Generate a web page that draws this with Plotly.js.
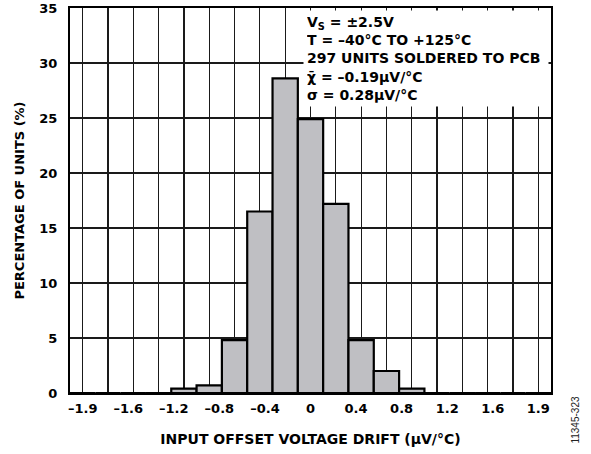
<!DOCTYPE html>
<html>
<head>
<meta charset="utf-8">
<script src="https://cdn.plot.ly/plotly-3.0.1.min.js"></script>
<style>html,body{margin:0;padding:0;background:#fff;}#chart{width:591px;height:454px;}</style>
</head>
<body>
<div id="chart"></div>
<script>
// Bin centres of the histogram (µV/°C)
var binCenters = [-1.8, -1.6, -1.4, -1.2, -1.0, -0.8, -0.6, -0.4, -0.2, 0.0, 0.2, 0.4, 0.6, 0.8, 1.0, 1.2, 1.4, 1.6, 1.8];
// Percentage of units in each bin
var percentUnits = [0, 0, 0, 0, 0.4, 0.7, 4.8, 16.5, 28.6, 24.9, 17.2, 4.8, 2.0, 0.4, 0, 0, 0, 0, 0];
// Tick labels as printed on the original x axis
var xTickLabels = ['\u20131.9', '\u20131.6', '\u20131.2', '\u20130.8', '\u20130.4', '0', '0.4', '0.8', '1.2', '1.6', '1.9'];
var yTickVals = [0, 5, 10, 15, 20, 25, 30, 35];
var statsLines = ['V<sub>S</sub> = \u00b12.5V', 'T = \u201340\u00b0C TO +125\u00b0C', '297 UNITS SOLDERED TO PCB', '\u03c7\u0304 = \u20130.19\u00b5V/\u00b0C', '\u03c3 = 0.28\u00b5V/\u00b0C'];

var binWidth = binCenters[1] - binCenters[0];
var xMin = binCenters[0] - binWidth / 2;
var xMax = binCenters[binCenters.length - 1] + binWidth / 2;
// printed labels are spread evenly from the first to the last bin centre
var first = binCenters[0], last = binCenters[binCenters.length - 1];
var xTickVals = xTickLabels.map(function (_, i) { return first + (last - first) * i / (xTickLabels.length - 1); });

var F = 'DejaVu Sans, Liberation Sans, Arial, sans-serif';

var bars = {
  type: 'bar',
  x: binCenters,
  y: percentUnits,
  width: binWidth,
  marker: { color: '#bfbfc3', line: { color: '#000', width: 2.2 } },
  hoverinfo: 'skip'
};
// invisible helper so the label axis is drawn
var labelAxisHelper = {
  type: 'scatter', mode: 'markers', xaxis: 'x2', yaxis: 'y',
  x: xTickVals, y: xTickVals.map(function () { return 0; }),
  marker: { opacity: 0, size: 1 }, hoverinfo: 'skip', showlegend: false
};

var layout = {
  width: 591, height: 454,
  margin: { l: 70, r: 40, t: 8, b: 61 },
  paper_bgcolor: '#fff', plot_bgcolor: '#fff',
  showlegend: false,
  bargap: 0,
  xaxis: {
    range: [xMin, xMax], tick0: binCenters[0], dtick: binWidth, tickmode: 'linear',
    showgrid: true, gridcolor: '#1a1a1a', gridwidth: 1.2,
    showticklabels: false, ticks: '', zeroline: false,
    showline: true, linecolor: '#000', linewidth: 2, mirror: true
  },
  xaxis2: {
    overlaying: 'x', anchor: 'y', side: 'bottom',
    range: [xMin, xMax], tickmode: 'array', tickvals: xTickVals, ticktext: xTickLabels,
    showgrid: false, zeroline: false, ticks: '', showline: false,
    ticklabelstandoff: 6,
    tickfont: { family: F, size: 13, color: '#000', weight: 'bold' },
    title: { text: 'INPUT OFFSET VOLTAGE DRIFT (\u00b5V/\u00b0C)', standoff: 19,
             font: { family: F, size: 14, color: '#000', weight: 'bold' } }
  },
  yaxis: {
    range: [0, 35], tickmode: 'array', tickvals: yTickVals,
    showgrid: true, gridcolor: '#1a1a1a', gridwidth: 1.2,
    zeroline: false, ticks: '', ticklabelstandoff: 8,
    showline: true, linecolor: '#000', linewidth: 2, mirror: 'all',
    tickfont: { family: F, size: 13, color: '#000', weight: 'bold' },
    title: { text: 'PERCENTAGE OF UNITS (%)', standoff: 12,
             font: { family: F, size: 13, color: '#000', weight: 'bold' } }
  },
  annotations: [
    {
      xref: 'paper', yref: 'paper', x: 0.484, y: 1, xanchor: 'left', yanchor: 'top', yshift: -2,
      text: statsLines.join('<br>'), align: 'left', showarrow: false,
      bgcolor: '#fff', borderpad: 3, width: 238,
      font: { family: F, size: 14, color: '#000', weight: 'bold' }
    },
    {
      xref: 'paper', yref: 'paper', x: 1.052, y: -0.069, xanchor: 'center', yanchor: 'middle',
      text: '11345-323', textangle: -90, showarrow: false,
      font: { family: 'Liberation Sans, Arial, sans-serif', size: 10, color: '#222' }
    }
  ]
};

Plotly.newPlot('chart', [bars, labelAxisHelper], layout, { displayModeBar: false, staticPlot: true });
</script>
</body>
</html>
